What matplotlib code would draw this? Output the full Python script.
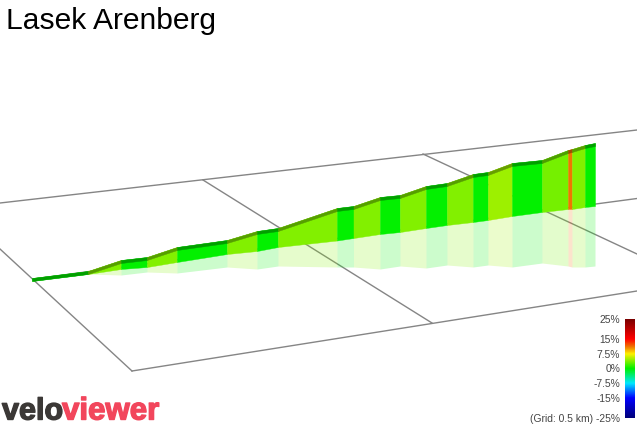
import matplotlib
matplotlib.use('Agg')
import numpy as np
import matplotlib.pyplot as plt
from matplotlib.colors import LinearSegmentedColormap, Normalize
import matplotlib.patheffects as pe

# profile, in image pixels
x_pos = [32, 88, 121, 147, 177, 227, 257, 278, 337, 353.5, 380, 400, 426, 447, 473, 488, 512, 542, 568, 572, 585, 595]
top_y = [279, 272, 261, 258, 248, 241, 232, 229, 209, 207, 198, 196, 187, 184, 175, 173, 164, 161, 151, 150, 146, 144]
base_y = [282, 275, 270, 268, 263, 255, 252, 248, 241.5, 239, 235, 233, 229, 226, 223, 221, 217, 213, 210, 210, 208, 207]
mirror_y = [282, 275, 276, 273, 274, 268, 270, 267, 268, 268, 270, 267, 269, 266, 268, 266, 268, 264, 267, 268, 268, 267]
gradients = [0, 3.8, 0, 3.8, 0, 3.8, 0, 3.8, 0, 3.8, 0, 3.8, 0, 3.8, 0, 4.6, 0, 3.4, 11, 3.8, 0]

# grid lines: x0, y0, x1, y1
grid_lines = [
    (0, 204, 637, 131),
    (33, 280, 637, 199.5),
    (132, 372, 637, 292),
    (0, 250, 132, 372),
    (203, 181, 432, 324),
    (423, 155, 637, 255),
]

scale_labels = ['25%', '15%', '7.5%', '0%', '-7.5%', '-15%', '(Grid: 0.5 km) -25%']
scale_y = [320, 340, 355, 369, 384, 399, 419]

stops = [(-25, '#00007a'), (-15, '#0000ff'), (-7.5, '#00e8ff'), (0, '#00f000'),
         (7.5, '#fff000'), (11, '#f07800'), (15, '#ff0000'), (25, '#7a0000')]
norm = Normalize(-25, 25)
cmap = LinearSegmentedColormap.from_list('grade', [(norm(v), c) for v, c in stops])

plt.rcParams['font.family'] = ['Liberation Sans', 'DejaVu Sans']
fig = plt.figure(figsize=(6.37, 4.27), dpi=100)
ax = fig.add_axes([0, 0, 1, 1])
ax.set_xlim(0, 637)
ax.set_ylim(427, 0)
ax.axis('off')

for x0, y0, x1, y1 in grid_lines:
    ax.plot([x0, x1], [y0, y1], color='#858585', lw=1, zorder=1)

for i, g in enumerate(gradients):
    xs = [x_pos[i], x_pos[i + 1]]
    col = cmap(norm(g))[:3]
    dark = tuple(c * 0.66 for c in col)
    # reflection below the base line
    ax.fill_between(xs, base_y[i:i + 2], mirror_y[i:i + 2], color=col, alpha=0.2, lw=0, zorder=2)
    # wall
    ax.fill_between(xs, top_y[i:i + 2], base_y[i:i + 2], color=col, lw=0.3, zorder=3)
    # darker top strip
    strip = [min(t + 3, b) for t, b in zip(top_y[i:i + 2], base_y[i:i + 2])]
    ax.fill_between(xs, top_y[i:i + 2], strip, color=dark, lw=0.3, zorder=4)

ax.text(6, 29, 'Lasek Arenberg', fontsize=21.6, color='black', ha='left', va='baseline')

# colour scale
ramp = np.linspace(25, -25, 200).reshape(-1, 1)
ax.imshow(ramp, cmap=cmap, norm=norm, extent=(625, 635, 419, 320), aspect='auto', zorder=3)
ax.set_xlim(0, 637)
ax.set_ylim(427, 0)
for lab, y in zip(scale_labels, scale_y):
    ax.text(620, y, lab, fontsize=7.4, color='#444444', ha='right', va='center')

# logo
stroke = [pe.withStroke(linewidth=1.0, foreground='#3b3836')]
stroke2 = [pe.withStroke(linewidth=1.0, foreground='#f2465c')]
ax.text(2, 420.5, 'velo', fontsize=22, fontweight='bold', color='#3b3836', va='baseline', path_effects=stroke)
ax.text(62, 420.5, 'viewer', fontsize=22.5, fontweight='bold', color='#f2465c', va='baseline', path_effects=stroke2)

fig.savefig('out.png', dpi=100)
